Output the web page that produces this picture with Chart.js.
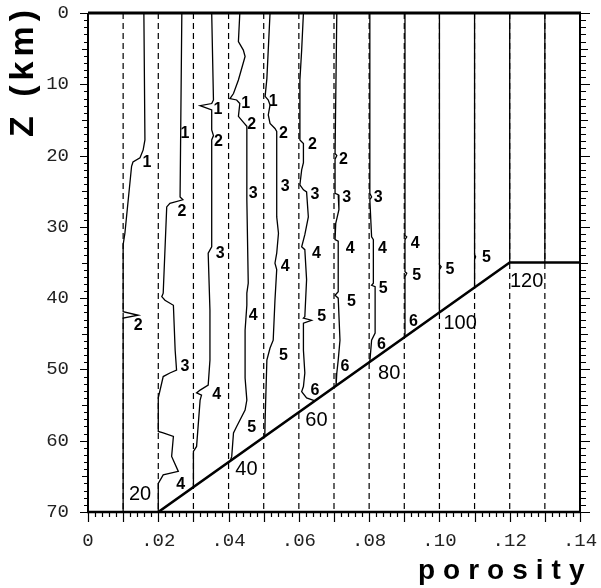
<!DOCTYPE html>
<html>
<head>
<meta charset="utf-8">
<script src="https://cdn.jsdelivr.net/npm/chart.js@4.4.1/dist/chart.umd.min.js"></script>
<style>
  html, body { margin: 0; background: #fff; }
  #wrap { position: relative; width: 601px; height: 588px; }
</style>
</head>
<body>
<div id="wrap"><canvas id="plot"></canvas></div>
<script>
// dashed reference lines, one per porosity step
const gridX = [0.01, 0.02, 0.03, 0.04, 0.05, 0.06, 0.07, 0.08, 0.09, 0.10, 0.11, 0.12, 0.13];

// traced curves, [porosity, depth km]
const trace1 = [[0.0159, 0], [0.0162, 17.8], [0.0157, 19.2], [0.0148, 20.3], [0.0128, 20.9], [0.0124, 21.5],
  [0.0105, 30.9], [0.01, 32.5], [0.01, 41.9], [0.0143, 42.4], [0.01, 42.8], [0.01, 70]];
const trace2 = [[0.0267, 0], [0.0262, 25.8], [0.0270, 26.2], [0.0233, 26.7], [0.0224, 27.2], [0.0214, 39.3],
  [0.021, 39.8], [0.0219, 40.3], [0.0243, 41], [0.0248, 47.3], [0.0252, 50.1], [0.0233, 50.5], [0.0214, 51],
  [0.02, 54], [0.02, 58.7], [0.0214, 58.9], [0.0243, 59.4], [0.0238, 62.2], [0.0257, 64.3], [0.0214, 64.8],
  [0.02, 66], [0.02, 70]];
const trace3 = [[0.0352, 0], [0.0357, 12.2], [0.0352, 12.7], [0.0319, 13], [0.0352, 13.6], [0.0352, 16.4],
  [0.0357, 17.2], [0.0352, 17.8], [0.0352, 32.8], [0.0342, 33.7], [0.0347, 41.7], [0.0347, 48.7],
  [0.0342, 52.2], [0.0319, 52.9], [0.0309, 53.3], [0.0323, 53.6], [0.0319, 54.3], [0.0309, 60.8],
  [0.03, 61.5], [0.03, 66.5]];
const trace4 = [[0.0432, 0], [0.0428, 4], [0.0442, 5.2], [0.0447, 6.1], [0.0428, 9.4], [0.0414, 11.3],
  [0.0404, 12], [0.0423, 12.2], [0.0432, 12.7], [0.0428, 14.5], [0.044, 15.2], [0.0452, 15.9],
  [0.0452, 26.2], [0.0456, 37.9], [0.0452, 39.3], [0.0452, 41], [0.0447, 44.5], [0.0447, 51.2],
  [0.0452, 54.3], [0.0447, 55.7], [0.0423, 58], [0.0414, 58.9], [0.0409, 62.2], [0.0405, 62.8]];
const trace5 = [[0.0518, 0], [0.0509, 9.2], [0.0504, 11.7], [0.0513, 12.2], [0.0518, 12.9], [0.0513, 14.3],
  [0.0518, 15.5], [0.0532, 16.2], [0.0537, 16.6], [0.0537, 28.6], [0.0542, 30.9], [0.0537, 33.7],
  [0.0532, 35.1], [0.0537, 36], [0.0532, 40.3], [0.0527, 45.9], [0.0518, 47], [0.0509, 48.7],
  [0.0504, 57.1], [0.0503, 59.5]];
const trace6 = [[0.0613, 0], [0.0608, 5.2], [0.0603, 9.4], [0.0603, 17.8], [0.0613, 18.3], [0.0613, 21],
  [0.0608, 22], [0.0603, 24.1], [0.0613, 24.8], [0.0622, 25.1], [0.0627, 28.6], [0.0617, 31.1],
  [0.0608, 32.8], [0.0617, 33.2], [0.0622, 37.4], [0.0617, 42.6], [0.0613, 42.8], [0.0636, 43.1],
  [0.0613, 43.5], [0.0613, 47.3], [0.0617, 50.5], [0.0613, 52.4], [0.0608, 53.1], [0.0622, 54], [0.0646, 54.4]];
const trace7 = [[0.0708, 0], [0.0703, 19.7], [0.0708, 20], [0.0703, 20.5], [0.0703, 25.3], [0.0712, 25.5],
  [0.0714, 27.6], [0.0705, 29.5], [0.0703, 31.8], [0.0712, 32], [0.0712, 39.1], [0.0703, 39.6],
  [0.0712, 40], [0.0717, 45.9], [0.0712, 48.7], [0.0708, 50.5], [0.0706, 52.3]];
const trace8 = [[0.0802, 0], [0.0802, 25.3], [0.0807, 25.8], [0.0802, 26.2], [0.0807, 31.4], [0.0812, 31.8],
  [0.0812, 37.9], [0.0807, 38.2], [0.0817, 38.4], [0.0817, 44.9], [0.0807, 45.9], [0.0802, 48.9]];
const trace9 = [[0.0902, 0], [0.0902, 31.2], [0.0907, 31.4], [0.0902, 31.8], [0.0902, 36.3], [0.0907, 36.5],
  [0.0902, 37], [0.0902, 45.5]];
const trace10 = [[0.1, 0], [0.1, 35.3], [0.1005, 35.6], [0.1, 36], [0.1, 42]];
const trace11 = [[0.11, 0], [0.11, 33.9], [0.1103, 34.2], [0.11, 34.6], [0.11, 38.5]];
const trace12 = [[0.12, 0], [0.12, 35]];
const trace13 = [[0.13, 0], [0.13, 35]];

// bounding line: ramp then flat
const boundary = [[0.02, 70], [0.12, 35], [0.14, 35]];

// small step numbers beside the traces
const stepLabels = [
  [0.0168, 21.0, "1"], [0.0143, 43.8, "2"],
  [0.0276, 16.9, "1"], [0.0267, 27.8, "2"], [0.0276, 49.6, "3"], [0.0264, 66.2, "4"],
  [0.0370, 13.5, "1"], [0.0371, 18.0, "2"], [0.0376, 33.8, "3"], [0.0366, 53.6, "4"],
  [0.0449, 12.7, "1"], [0.0466, 15.7, "2"], [0.0470, 25.3, "3"], [0.0470, 42.4, "4"], [0.0466, 58.2, "5"],
  [0.0527, 12.4, "1"], [0.0556, 16.9, "2"], [0.0561, 24.4, "3"], [0.0561, 35.6, "4"], [0.0556, 48.0, "5"],
  [0.0639, 18.5, "2"], [0.0646, 25.5, "3"], [0.0650, 33.7, "4"], [0.0665, 42.6, "5"], [0.0646, 52.9, "6"],
  [0.0727, 20.6, "2"], [0.0736, 25.9, "3"], [0.0746, 33.0, "4"], [0.0750, 40.5, "5"], [0.0731, 49.6, "6"],
  [0.0826, 25.9, "3"], [0.0838, 33.0, "4"], [0.0840, 38.6, "5"], [0.0835, 46.5, "6"],
  [0.0931, 32.4, "4"], [0.0935, 36.8, "5"], [0.0926, 43.3, "6"],
  [0.1030, 36.0, "5"],
  [0.1134, 34.3, "5"]
];

// larger numbers along the ramp
const rampLabels = [
  [0.0148, 67.6, "20"], [0.0451, 64.1, "40"], [0.0650, 57.1, "60"],
  [0.0857, 50.5, "80"], [0.1059, 43.5, "100"], [0.1248, 37.6, "120"]
];

const toPts = arr => arr.map(([px, pz]) => ({ x: px, y: pz }));

const solidTraces = [trace1, trace2, trace3, trace4, trace5, trace6, trace7, trace8, trace9,
  trace10, trace11, trace12, trace13];

const datasets = [];
datasets.push({ data: toPts(boundary), borderColor: "#000", borderWidth: 2.6 });
solidTraces.forEach(t => datasets.push({ data: toPts(t), borderColor: "#000", borderWidth: 1.3 }));
gridX.forEach(gx => datasets.push({
  data: [{ x: gx, y: 0 }, { x: gx, y: 70 }],
  borderColor: "#000", borderWidth: 1.2, borderDash: [6, 4]
}));
datasets.forEach(d => { d.showLine = true; d.pointRadius = 0; d.tension = 0; d.fill = false; });

// fixed axis boxes, no edge padding for the end labels
const fixBox = size => s => {
  if (s.isHorizontal()) s.height = size; else s.width = size;
  s.paddingLeft = s.paddingRight = s.paddingTop = s.paddingBottom = 0;
};

const decorations = {
  id: "decorations",
  afterDatasetsDraw(chart) {
    const { ctx, scales: { x, y } } = chart;
    ctx.save();
    ctx.fillStyle = "#000";
    ctx.textAlign = "center";
    ctx.textBaseline = "middle";
    ctx.font = "bold 16px 'Liberation Sans'";
    stepLabels.forEach(([px, pz, t]) => ctx.fillText(t, x.getPixelForValue(px), y.getPixelForValue(pz)));
    ctx.font = "20px 'Liberation Sans'";
    rampLabels.forEach(([px, pz, t]) => ctx.fillText(t, x.getPixelForValue(px), y.getPixelForValue(pz)));
    ctx.restore();
  },
  afterDraw(chart) {
    const { ctx, chartArea: a, scales: { x, y } } = chart;
    ctx.save();
    ctx.strokeStyle = "#000";
    ctx.lineCap = "butt";

    // frame
    ctx.lineWidth = 3;
    ctx.beginPath(); ctx.moveTo(a.left, a.top); ctx.lineTo(a.right + 1, a.top); ctx.stroke();
    ctx.lineWidth = 2;
    ctx.beginPath();
    ctx.moveTo(a.left, a.top); ctx.lineTo(a.left, a.bottom);
    ctx.moveTo(a.right, a.top); ctx.lineTo(a.right, a.bottom);
    ctx.stroke();
    ctx.lineWidth = 2.5;
    ctx.beginPath(); ctx.moveTo(a.left - 1, a.bottom); ctx.lineTo(a.right + 1, a.bottom); ctx.stroke();

    // depth ticks, left and right
    ctx.lineWidth = 1.2;
    ctx.beginPath();
    for (let i = 0; i <= 70; i++) {
      const py = Math.round(y.getPixelForValue(i)) + 0.5;
      const len = i % 10 === 0 ? 8 : (i % 5 === 0 ? 6 : 4);
      ctx.moveTo(a.left - len, py); ctx.lineTo(a.left, py);
      ctx.moveTo(a.right, py); ctx.lineTo(a.right + len + 2, py);
    }
    // porosity ticks, every 0.002
    for (let i = 0; i <= 70; i++) {
      const px = Math.round(x.getPixelForValue(i * 0.002)) + 0.5;
      const len = i % 5 === 0 ? 10 : 5;
      ctx.moveTo(px, a.bottom); ctx.lineTo(px, a.bottom + len);
    }
    ctx.stroke();

    // axis titles
    ctx.fillStyle = "#000";
    ctx.textBaseline = "alphabetic";
    ctx.textAlign = "left";
    ctx.font = "bold 28px 'Liberation Sans'";
    ctx.letterSpacing = "8px";
    ctx.fillText("porosity", 418, 579);

    ctx.font = "bold 34px 'Liberation Sans'";
    ctx.letterSpacing = "5px";
    ctx.translate(33, 137);
    ctx.rotate(-Math.PI / 2);
    ctx.fillText("Z (km)", 0, 0);
    ctx.restore();
  }
};

new Chart(document.getElementById("plot"), {
  type: "scatter",
  data: { datasets },
  options: {
    responsive: true,
    maintainAspectRatio: false,
    animation: false,
    layout: { padding: { top: 13, right: 21, left: 0, bottom: 0 } },
    plugins: { legend: { display: false }, tooltip: { enabled: false } },
    scales: {
      x: {
        type: "linear", min: 0, max: 0.14,
        grid: { display: false, drawTicks: false },
        border: { display: false },
        afterFit: fixBox(76),
        ticks: {
          stepSize: 0.02, padding: 18, color: "#222",
          font: { family: "'Liberation Mono'", size: 19 },
          maxRotation: 0, autoSkip: false,
          callback: v => v === 0 ? "0" : Number(v).toFixed(2).replace(/^0/, "")
        }
      },
      y: {
        type: "linear", min: 0, max: 70, reverse: true,
        grid: { display: false, drawTicks: false },
        border: { display: false },
        afterFit: fixBox(88),
        ticks: {
          stepSize: 10, padding: 19, color: "#222",
          font: { family: "'Liberation Mono'", size: 19 }
        }
      }
    }
  },
  plugins: [decorations]
});
</script>
</body>
</html>
